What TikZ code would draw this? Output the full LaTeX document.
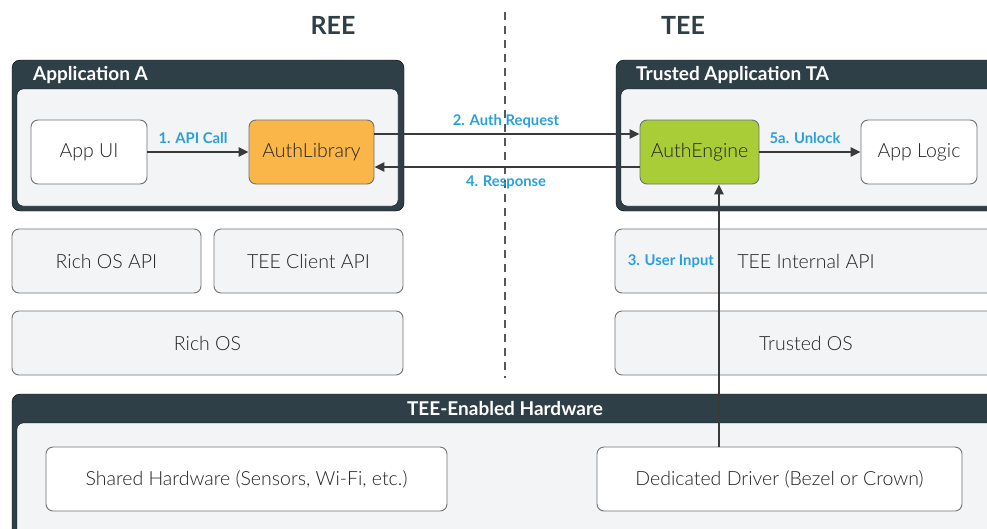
\documentclass[tikz,border=0pt]{standalone}
\usepackage{fontspec}
\setmainfont{Lato}
\newfontfamily\boxfont{Lato Light}
\usetikzlibrary{arrows.meta,calc}

\definecolor{panel}{HTML}{2F3F47}
\definecolor{inner}{HTML}{F3F4F6}
\definecolor{edge}{HTML}{6E7276}
\definecolor{steplabel}{HTML}{2AA0DA}
\definecolor{libfill}{HTML}{FBB649}
\definecolor{engfill}{HTML}{A9CD36}
\definecolor{ink}{HTML}{222222}
\definecolor{arrowink}{HTML}{3A3A3A}

\tikzset{
  container/.style={fill=panel, rounded corners=8pt},
  innerpanel/.style={fill=inner, rounded corners=6pt},
  compbox/.style={draw=edge, line width=0.9pt, rounded corners=7pt, text=ink,
    font=\boxfont\fontsize{19.5}{22}\selectfont, inner sep=0pt},
  whitebox/.style={compbox, fill=white},
  greybox/.style={compbox, fill=inner},
  headtext/.style={text=white, font=\bfseries\fontsize{19}{21}\selectfont, inner sep=0pt},
  sidetitle/.style={text=panel, font=\bfseries\fontsize{25}{28}\selectfont, inner sep=0pt},
  flow/.style={draw=arrowink, line width=2.6pt, -{Triangle[length=10pt,width=9pt]}},
  steptext/.style={text=steplabel, font=\bfseries\fontsize{14.8}{17}\selectfont, inner sep=0pt},
}

\begin{document}
\begin{tikzpicture}[x=1pt,y=-1pt]
\useasboundingbox (0,0) rectangle (987,528);
\clip (0,0) rectangle (987,528);

% side titles and REE/TEE split
\node[sidetitle] (ree) at (333,25) {REE};
\node[sidetitle] (tee) at (683,25) {TEE};
\draw[arrowink!85, line width=1.6pt, dash pattern=on 8pt off 6pt] (505,12) -- (505,378);

% Application A container
\draw[container] (12,60) rectangle (404,211);
\draw[innerpanel] (17,89) rectangle (398,206);
\node[headtext, anchor=west] (appA) at (33,75) {Application A};

% Trusted Application TA container
\draw[container] (616,60) rectangle (1010,211);
\draw[innerpanel] (621,89) rectangle (1010,206);
\node[headtext, anchor=west] (appTA) at (636,75) {Trusted Application TA};

% Hardware container
\draw[container] (12,394) rectangle (1010,540);
\draw[innerpanel] (17,423) rectangle (1010,540);
\node[headtext] (hw) at (505,409) {TEE-Enabled Hardware};

% application components
\node[whitebox, minimum width=116pt, minimum height=64pt] (ui) at (89,152) {App UI};
\node[compbox, fill=libfill, minimum width=125pt, minimum height=64pt] (lib) at (311.5,152) {AuthLibrary};
\node[compbox, fill=engfill, minimum width=119pt, minimum height=64pt] (eng) at (699.5,152) {AuthEngine};
\node[whitebox, minimum width=116pt, minimum height=64pt] (logic) at (919,152) {App Logic};

% OS layers
\node[greybox, minimum width=189pt, minimum height=64pt] (richapi) at (106.5,261) {Rich OS API};
\node[greybox, minimum width=189pt, minimum height=64pt] (clientapi) at (308.5,261) {TEE Client API};
\node[greybox, minimum width=391pt, minimum height=64pt] (richos) at (207.5,343) {Rich OS};
\node[greybox, minimum width=382pt, minimum height=64pt] (intapi) at (806,261) {TEE Internal API};
\node[greybox, minimum width=382pt, minimum height=64pt] (tos) at (806,343) {Trusted OS};

% hardware components
\node[whitebox, minimum width=401pt, minimum height=64pt] (shared) at (246.5,479) {Shared Hardware (Sensors, Wi-Fi, etc.)};
\node[whitebox, minimum width=365pt, minimum height=64pt] (driver) at (779.5,479) {Dedicated Driver (Bezel or Crown)};

% flows
\draw[flow] (ui.east) -- (lib.west);
\node[steptext] (s1) at (193,138) {1. API Call};

\draw[flow] ([yshift=18pt]lib.east) -- ([yshift=18pt]eng.west);
\node[steptext] (s2) at (506,121) {2. Auth Request};

\draw[flow] ([yshift=-15pt]eng.west) -- ([yshift=-15pt]lib.east);
\node[steptext] (s4) at (506,182) {4. Response};

\coordinate (inputx) at (719,300);
\draw[flow] (driver.north -| inputx) -- (eng.south -| inputx);
\node[steptext, anchor=east] (s3) at (714,261) {3. User Input};

\draw[flow] (eng.east) -- (logic.west);
\node[steptext] (s5) at (805,138) {5a. Unlock};
\end{tikzpicture}
\end{document}
